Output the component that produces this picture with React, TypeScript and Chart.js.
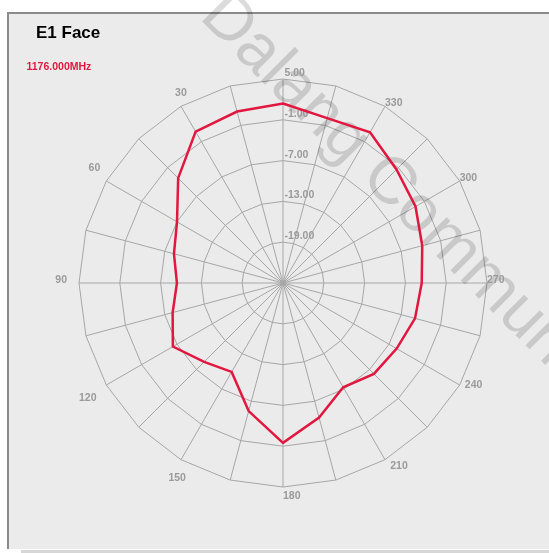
import React, { useEffect, useRef } from 'react';
import { Chart, registerables } from 'chart.js';

Chart.register(...registerables);

// ---- chart content -------------------------------------------------------
const TITLE = 'E1 Face';
const FREQUENCY_LABEL = '1176.000MHz';
const WATERMARK = 'Dalang Communication';

// azimuth (degrees, counter-clockwise from the top) and gain (dB)
const ANGLE_DEG = [0, 15, 30, 45, 60, 75, 90, 105, 120, 135, 150, 165, 180, 195, 210, 225, 240, 255, 270, 285, 300, 315, 330, 345];
const GAIN_DB = [1.4, 1.1, 0.7, -3.2, -7.0, -8.4, -9.4, -8.2, -6.3, -8.6, -9.9, -5.5, -1.5, -4.5, -7.3, -6.1, -5.7, -4.9, -4.6, -3.8, -2.5, -1.4, 0.6, 0.1];

// angles that carry a text label around the rim
const LABELED_ANGLES = [30, 60, 90, 120, 150, 180, 210, 240, 270, 300, 330];

// radial scale
const R_MIN = -25;
const R_MAX = 5;
const R_STEP = 6;
const TICK_VALUES = [5, -1, -7, -13, -19];

// Chart.js radar runs clockwise from the top; this pattern runs counter-clockwise.
const ORDER = ANGLE_DEG.map((_, i) => (ANGLE_DEG.length - i) % ANGLE_DEG.length);
const CHART_LABELS = ORDER.map((k) => String(ANGLE_DEG[k]));
const CHART_DATA = ORDER.map((k) => GAIN_DB[k]);

// ---- styles ----------------------------------------------------------------
const FONT_FAMILY = '"Liberation Sans", Arial, sans-serif';
const LABEL_FONT = `bold 10.5px ${FONT_FAMILY}`;
const LABEL_COLOR = '#9a9a9a';
const GRID_COLOR = '#a6a6a6';
const TRACE_COLOR = '#e2173f';

const decorPlugin = {
  id: 'polarDecor',
  beforeDatasetsDraw(chart: any) {
    const ctx: CanvasRenderingContext2D = chart.ctx;
    const scale = chart.scales.r;
    const cx = scale.xCenter;
    const cy = scale.yCenter;
    const R = scale.drawingArea;

    // watermark
    ctx.save();
    ctx.translate(211, 5);
    ctx.rotate(Math.PI / 4);
    ctx.font = `66px ${FONT_FAMILY}`;
    ctx.fillStyle = 'rgba(0,0,0,0.14)';
    ctx.textAlign = 'left';
    ctx.textBaseline = 'middle';
    ctx.fillText(WATERMARK, 0, 0);
    ctx.restore();

    ctx.save();
    ctx.font = LABEL_FONT;
    ctx.fillStyle = LABEL_COLOR;
    ctx.textAlign = 'left';
    ctx.textBaseline = 'alphabetic';

    // radial tick labels, just right of the 0° spoke, above each ring
    TICK_VALUES.forEach((v) => {
      const d = scale.getDistanceFromCenterForValue(v);
      ctx.fillText(v.toFixed(2), cx + 1.5, cy - d - 3);
    });

    // angle labels around the rim
    CHART_LABELS.forEach((lab, i) => {
      if (!LABELED_ANGLES.includes(Number(lab))) return;
      const p = scale.getPointPosition(i, R);
      const dx = (p.x - cx) / R;
      const dy = (p.y - cy) / R;
      const w = ctx.measureText(lab).width;
      const dist = R + (w + 12) * Math.max(0, -dx) + 12 * Math.max(0, dy);
      const a = scale.getPointPosition(i, dist);
      ctx.fillText(lab, a.x, a.y);
    });
    ctx.restore();
  },
  afterDraw(chart: any) {
    const ctx: CanvasRenderingContext2D = chart.ctx;
    ctx.save();
    ctx.textAlign = 'left';
    ctx.textBaseline = 'alphabetic';
    ctx.fillStyle = '#000';
    ctx.font = `bold 17px ${FONT_FAMILY}`;
    ctx.fillText(TITLE, 36, 38);
    ctx.fillStyle = TRACE_COLOR;
    ctx.font = `bold 10.5px ${FONT_FAMILY}`;
    ctx.fillText(FREQUENCY_LABEL, 26.5, 69.5);
    ctx.restore();
  },
};

export default function App() {
  const canvasRef = useRef<HTMLCanvasElement | null>(null);

  useEffect(() => {
    const canvas = canvasRef.current;
    if (!canvas) return;
    const chart = new Chart(canvas, {
      type: 'radar',
      data: {
        labels: CHART_LABELS,
        datasets: [
          {
            label: FREQUENCY_LABEL,
            data: CHART_DATA,
            borderColor: TRACE_COLOR,
            borderWidth: 2.5,
            pointRadius: 0,
            pointHoverRadius: 0,
            fill: false,
            tension: 0,
          },
        ],
      },
      options: {
        animation: false,
        responsive: false,
        devicePixelRatio: 1,
        layout: { padding: { left: 79, top: 79, right: 62, bottom: 66 } },
        plugins: {
          legend: { display: false },
          tooltip: { enabled: false },
          title: { display: false },
        },
        scales: {
          r: {
            min: R_MIN,
            max: R_MAX,
            startAngle: 0,
            ticks: { stepSize: R_STEP, display: false },
            pointLabels: { display: false },
            grid: { color: GRID_COLOR, lineWidth: 1, circular: false },
            angleLines: { display: true, color: GRID_COLOR, lineWidth: 1 },
          },
        },
      },
      plugins: [decorPlugin],
    });
    return () => chart.destroy();
  }, []);

  return (
    <div style={{ position: 'fixed', left: 0, top: 0, width: 549, height: 553, background: '#ffffff', overflow: 'hidden' }}>
      <div
        style={{
          position: 'absolute',
          left: 7,
          top: 12,
          width: 560,
          height: 537,
          boxSizing: 'border-box',
          background: '#ebebeb',
          borderLeft: '2px solid #8a8a8a',
          borderTop: '2px solid #8a8a8a',
        }}
      />
      <div style={{ position: 'absolute', left: 21, top: 550, width: 540, height: 3, background: '#d6d6d6' }} />
      <canvas ref={canvasRef} width={549} height={553} style={{ position: 'absolute', left: 0, top: 0, width: 549, height: 553 }} />
    </div>
  );
}
